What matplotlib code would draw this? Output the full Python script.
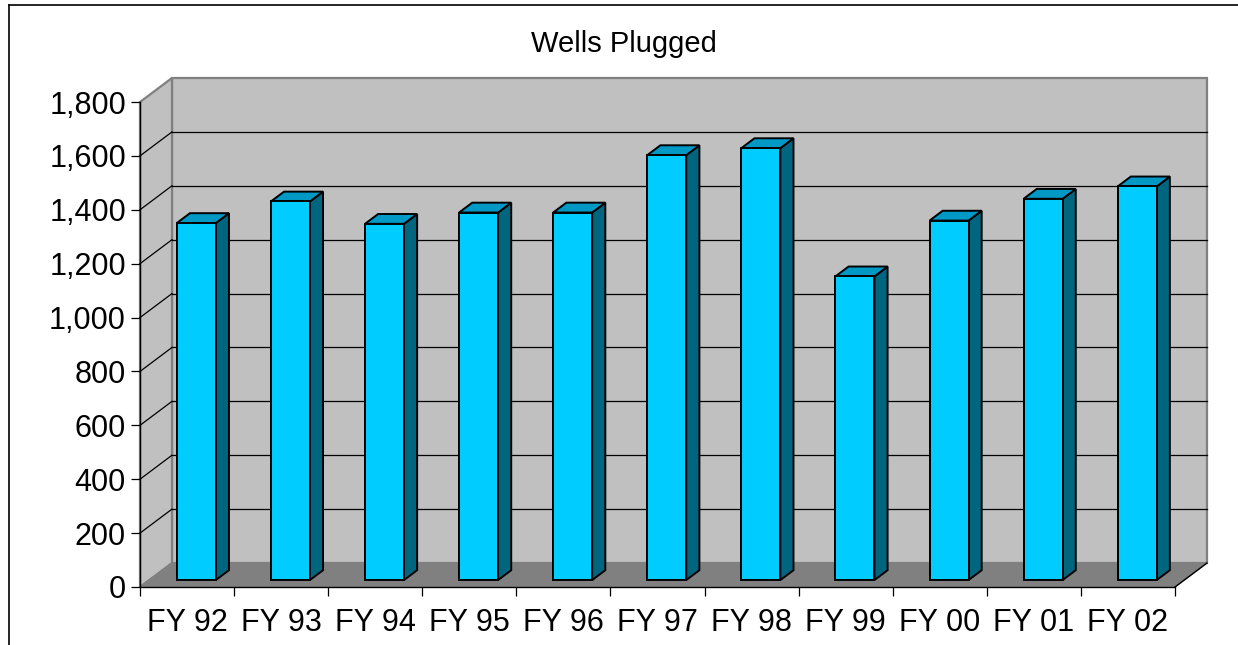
import matplotlib
matplotlib.use("Agg")
import matplotlib.pyplot as plt
from matplotlib.patches import Polygon
from matplotlib.lines import Line2D
import numpy as np

plt.rcParams['font.family'] = ['Liberation Sans', 'DejaVu Sans']

# ---- data ----
categories = ["FY 92", "FY 93", "FY 94", "FY 95", "FY 96", "FY 97",
              "FY 98", "FY 99", "FY 00", "FY 01", "FY 02"]
wells_plugged = [1325, 1405, 1322, 1364, 1364, 1577, 1603, 1127, 1334, 1415, 1461]
y_ticks = [0, 200, 400, 600, 800, 1000, 1200, 1400, 1600, 1800]
title = "Wells Plugged"

# ---- style / geometry ----
W, H = 1238, 645
fig = plt.figure(figsize=(W / 100, H / 100), dpi=100)
fig.patch.set_facecolor("white")

left_px, right_px, bot_px, top_px = 140, 1175, 587, 102
ax = fig.add_axes([left_px / W, 1 - bot_px / H, (right_px - left_px) / W, (bot_px - top_px) / H])
ax.set_facecolor("none")
n = len(categories)
ymax = y_ticks[-1]
ax.set_xlim(-0.5, n - 0.5)
ax.set_ylim(0, ymax)

px_per_cat = (right_px - left_px) / n
px_per_val = (bot_px - top_px) / ymax
DX = 32 / px_per_cat      # depth offset in category units
DY = 24 / px_per_val      # depth offset in value units

wall_c = "#C0C0C0"
floor_c = "#808080"
edge_c = "#808080"
x0w, x1w = -0.5, n - 0.5

# back wall
ax.add_patch(Polygon([(x0w + DX, DY), (x1w + DX, DY), (x1w + DX, ymax + DY), (x0w + DX, ymax + DY)],
                     closed=True, facecolor=wall_c, edgecolor=edge_c, lw=1.6, clip_on=False, zorder=1))
# left side wall
ax.add_patch(Polygon([(x0w, 0), (x0w + DX, DY), (x0w + DX, ymax + DY), (x0w, ymax)],
                     closed=True, facecolor=wall_c, edgecolor=edge_c, lw=1.6, clip_on=False, zorder=1))
# gridlines
for v in y_ticks[1:-1]:
    ax.add_line(Line2D([x0w + DX, x1w + DX], [v + DY, v + DY], color="black", lw=0.9, clip_on=False, zorder=2))
    ax.add_line(Line2D([x0w, x0w + DX], [v, v + DY], color="black", lw=0.9, clip_on=False, zorder=2))
# floor
ax.add_patch(Polygon([(x0w, 0), (x1w, 0), (x1w + DX, DY), (x0w + DX, DY)],
                     closed=True, facecolor=floor_c, edgecolor=floor_c, lw=1.0, clip_on=False, zorder=3))
ax.add_line(Line2D([x1w, x1w + DX], [0, DY], color="black", lw=1.0, clip_on=False, zorder=3))

# bars
front_c = "#00CCFF"
top_c = "#0099C6"
side_c = "#006680"
bw = 0.4145
f0, f1 = 0.29, 0.70
d = f1 - f0
for i, v in enumerate(wells_plugged):
    bx0 = i - bw / 2 + f0 * DX
    bx1 = bx0 + bw
    by0 = f0 * DY
    by1 = by0 + v
    ex, ey = d * DX, d * DY
    kw = dict(closed=True, edgecolor="black", lw=1.4, clip_on=False, zorder=5, joinstyle="miter")
    ax.add_patch(Polygon([(bx1, by0), (bx1 + ex, by0 + ey), (bx1 + ex, by1 + ey), (bx1, by1)], facecolor=side_c, **kw))
    ax.add_patch(Polygon([(bx0, by1), (bx1, by1), (bx1 + ex, by1 + ey), (bx0 + ex, by1 + ey)], facecolor=top_c, **kw))
    ax.add_patch(Polygon([(bx0, by0), (bx1, by0), (bx1, by1), (bx0, by1)], facecolor=front_c, **kw))

# axes
for s in ["top", "right"]:
    ax.spines[s].set_visible(False)
for s in ["left", "bottom"]:
    ax.spines[s].set_color("black")
    ax.spines[s].set_linewidth(1.0)
    ax.spines[s].set_zorder(6)

ax.set_yticks(y_ticks)
ax.set_yticklabels([f"{v:,}" for v in y_ticks])
ax.tick_params(axis="y", direction="out", length=6.5, width=0.9, pad=3.6, labelsize=22, colors="black")

ax.set_xticks(np.arange(n))
ax.set_xticklabels(categories)
ax.set_xticks(np.arange(n + 1) - 0.5, minor=True)
ax.tick_params(axis="x", which="major", length=0, pad=15, labelsize=22)
ax.tick_params(axis="x", which="minor", direction="out", length=6.5, width=0.9)

# title
fig.text(623.5 / W, 1 - 52 / H, title, ha="center", va="baseline", fontsize=21, color="black")

# outer frame (partially cropped)
fig.add_artist(Line2D([9 / W, 9 / W], [0, 1 - 5 / H], color="black", lw=1.2, transform=fig.transFigure))
fig.add_artist(Line2D([9 / W, 1], [1 - 5 / H, 1 - 5 / H], color="black", lw=1.2, transform=fig.transFigure))

fig.savefig("out.png", dpi=100)
